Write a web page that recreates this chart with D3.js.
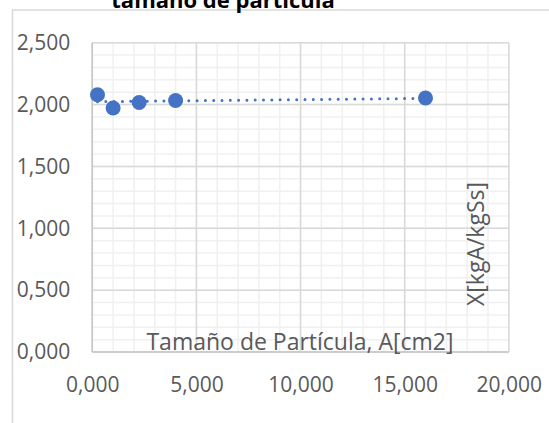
<!DOCTYPE html>
<html>
<head>
<meta charset="utf-8">
<script src="https://cdn.jsdelivr.net/npm/d3@7"></script>
<style>
  html, body { margin: 0; padding: 0; background: #fff; }
  svg { display: block; }
  text { font-family: "Open Sans", "DejaVu Sans", sans-serif; }
</style>
</head>
<body>
<svg id="chart" width="549" height="423"></svg>
<script>
// Particle size (A, cm2) and moisture content X (kgA/kgSs)
const particleSize = [0.25, 1, 2.25, 4, 16];
const moisture = [2.079, 1.972, 2.017, 2.033, 2.053];

const xTickValues = [0, 5, 10, 15, 20];
const yTickValues = [0, 0.5, 1, 1.5, 2, 2.5];

const titleText = "tamaño de partícula";
const xTitle = "Tamaño de Partícula, A[cm2]";
const yTitle = "X[kgA/kgSs]";

const locale = d3.formatLocale({ decimal: ",", thousands: ".", grouping: [3], currency: ["", ""] });
const fmt = locale.format(".3f");

const svg = d3.select("#chart");
const plot = { left: 92.3, top: 42.7, right: 508.8, bottom: 352 };

// Chart-area frame (runs off the right and bottom of the page)
svg.append("rect")
  .attr("x", 12.5).attr("y", 10)
  .attr("width", 700).attr("height", 600)
  .attr("fill", "#fff")
  .attr("stroke", "#d9d9d9").attr("stroke-width", 1.5);

// Title (second line of the chart title)
svg.append("text")
  .attr("x", 223).attr("y", 8)
  .attr("text-anchor", "middle")
  .attr("font-size", 22).attr("font-weight", "bold")
  .attr("fill", "#000")
  .text(titleText);

const x = d3.scaleLinear().domain([0, 20]).range([plot.left, plot.right]);
const y = d3.scaleLinear().domain([0, 2.5]).range([plot.bottom, plot.top]);

const grid = svg.append("g");
// Minor gridlines
grid.selectAll(".xm").data(d3.range(0, 20.001, 1)).join("line")
  .attr("x1", d => x(d)).attr("x2", d => x(d))
  .attr("y1", plot.top).attr("y2", plot.bottom)
  .attr("stroke", "#f0f0f0").attr("stroke-width", 1.5);
grid.selectAll(".ym").data(d3.range(0, 25.001, 1).map(v => v / 10)).join("line")
  .attr("y1", d => y(d)).attr("y2", d => y(d))
  .attr("x1", plot.left).attr("x2", plot.right)
  .attr("stroke", "#f0f0f0").attr("stroke-width", 1.5);
// Major gridlines
grid.selectAll(".xM").data(xTickValues).join("line")
  .attr("x1", d => x(d)).attr("x2", d => x(d))
  .attr("y1", plot.top).attr("y2", plot.bottom)
  .attr("stroke", "#d9d9d9").attr("stroke-width", 1.5);
grid.selectAll(".yM").data(yTickValues).join("line")
  .attr("y1", d => y(d)).attr("y2", d => y(d))
  .attr("x1", plot.left).attr("x2", plot.right)
  .attr("stroke", "#d9d9d9").attr("stroke-width", 1.5);
// Value axis lines
svg.append("line").attr("x1", plot.left).attr("x2", plot.left)
  .attr("y1", plot.top).attr("y2", plot.bottom)
  .attr("stroke", "#c6c6c6").attr("stroke-width", 1.5);
svg.append("line").attr("x1", plot.left).attr("x2", plot.right)
  .attr("y1", plot.bottom).attr("y2", plot.bottom)
  .attr("stroke", "#c6c6c6").attr("stroke-width", 1.5);

// Axes (labels only)
const xAxis = svg.append("g")
  .attr("transform", `translate(0,${plot.bottom})`)
  .call(d3.axisBottom(x).tickValues(xTickValues).tickFormat(fmt).tickSize(0).tickPadding(25));
const yAxis = svg.append("g")
  .attr("transform", `translate(${plot.left},0)`)
  .call(d3.axisLeft(y).tickValues(yTickValues).tickFormat(fmt).tickSize(0).tickPadding(22));
[xAxis, yAxis].forEach(g => {
  g.select(".domain").remove();
  g.selectAll("text").attr("font-size", 21).attr("fill", "#595959")
    .attr("font-family", "'Open Sans', sans-serif");
});

// Linear trendline (least squares over the data range)
const mx = d3.mean(particleSize), my = d3.mean(moisture);
const sxy = d3.sum(particleSize, (v, i) => (v - mx) * (moisture[i] - my));
const sxx = d3.sum(particleSize, v => (v - mx) * (v - mx));
const slope = sxy / sxx, intercept = my - slope * mx;
const x0 = d3.min(particleSize), x1 = d3.max(particleSize);
svg.append("line")
  .attr("x1", x(x0)).attr("y1", y(intercept + slope * x0))
  .attr("x2", x(x1)).attr("y2", y(intercept + slope * x1))
  .attr("stroke", "#4472C4").attr("stroke-width", 3)
  .attr("stroke-linecap", "round").attr("stroke-dasharray", "0 8.3");

// Markers
svg.append("g").selectAll("circle").data(particleSize).join("circle")
  .attr("cx", d => x(d))
  .attr("cy", (d, i) => y(moisture[i]))
  .attr("r", 7.5)
  .attr("fill", "#4472C4");

// Axis titles
svg.append("text")
  .attr("x", 300).attr("y", 350)
  .attr("text-anchor", "middle")
  .attr("font-size", 23).attr("fill", "#595959")
  .text(xTitle);
svg.append("text")
  .attr("transform", "translate(484,244) rotate(-90)")
  .attr("text-anchor", "middle")
  .attr("font-size", 23).attr("fill", "#595959")
  .text(yTitle);
</script>
</body>
</html>
